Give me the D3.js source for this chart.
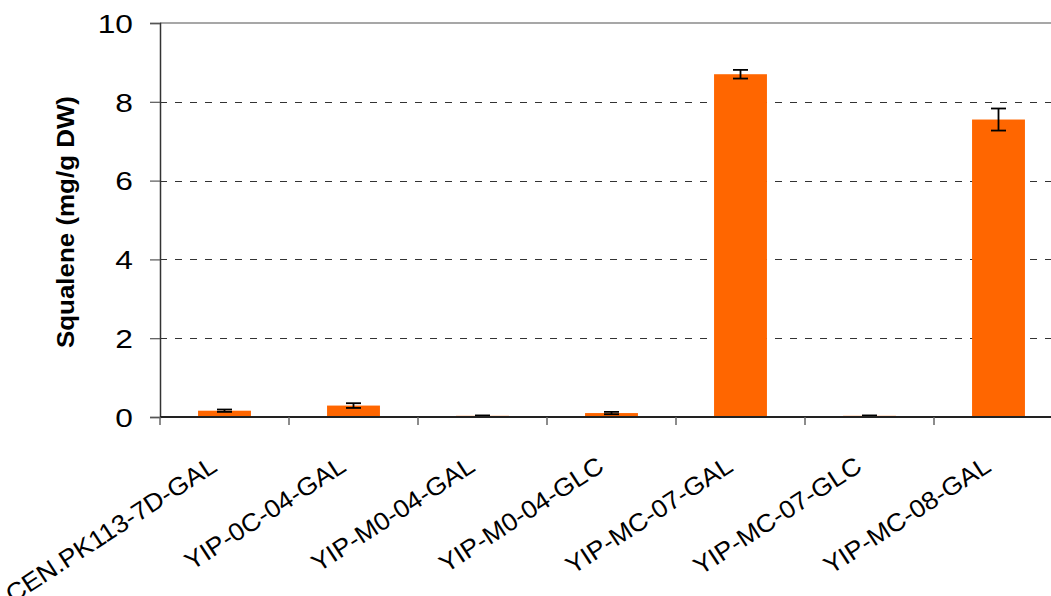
<!DOCTYPE html>
<html>
<head>
<meta charset="utf-8">
<script src="https://cdn.jsdelivr.net/npm/d3@7"></script>
<style>
  html, body { margin: 0; padding: 0; background: #fff; }
  svg { display: block; font-family: "Liberation Sans", Arial, sans-serif; }
</style>
</head>
<body>
<svg id="chart" width="1051" height="596"></svg>
<script>
// Squalene content per strain / carbon source
const strains = ["CEN.PK113-7D-GAL", "YIP-0C-04-GAL", "YIP-M0-04-GAL", "YIP-M0-04-GLC",
                 "YIP-MC-07-GAL", "YIP-MC-07-GLC", "YIP-MC-08-GAL"];
const squalene = [0.16, 0.29, 0.03, 0.10, 8.70, 0.03, 7.55];
const errors   = [0.03, 0.06, 0.01, 0.03, 0.11, 0.01, 0.28];
const yTicks   = [0, 2, 4, 6, 8, 10];

const svg = d3.select("#chart");
const plotL = 160, plotR = 1063, plotT = 23, plotB = 417;

const x = d3.scaleBand().domain(strains).range([plotL, plotR]).paddingInner(0.59).paddingOuter(0.295);
const y = d3.scaleLinear().domain([0, 10]).range([plotB, plotT]);

// widen a text element's glyphs by a factor
function widen(sel, k) {
  sel.each(function () {
    const w = this.getComputedTextLength();
    d3.select(this).attr("textLength", w * k).attr("lengthAdjust", "spacingAndGlyphs");
  });
}

// horizontal gridlines
svg.append("g").selectAll("line")
  .data(yTicks.filter(t => t > 0 && t < 10))
  .join("line")
  .attr("x1", plotL).attr("x2", plotR)
  .attr("y1", d => Math.round(y(d)) + 0.5).attr("y2", d => Math.round(y(d)) + 0.5)
  .attr("stroke", "#333").attr("stroke-width", 1).attr("stroke-dasharray", "7,8");

// top border of the plot area
svg.append("line")
  .attr("x1", plotL).attr("x2", plotR)
  .attr("y1", y(10)).attr("y2", y(10))
  .attr("stroke", "#8a8a8a").attr("stroke-width", 1.5);

// bars
svg.append("g").selectAll("rect")
  .data(strains)
  .join("rect")
  .attr("x", d => x(d))
  .attr("width", x.bandwidth())
  .attr("y", (d, i) => y(squalene[i]))
  .attr("height", (d, i) => y(0) - y(squalene[i]))
  .attr("fill", "#FF6600");

// error bars
const eb = svg.append("g").attr("stroke", "#000").attr("stroke-width", 1.8);
strains.forEach((s, i) => {
  const cx = x(s) + x.bandwidth() / 2;
  const y1 = y(squalene[i] + errors[i]), y2 = y(Math.max(0, squalene[i] - errors[i]));
  eb.append("line").attr("x1", cx).attr("x2", cx).attr("y1", y1).attr("y2", y2);
  eb.append("line").attr("x1", cx - 7.5).attr("x2", cx + 7.5).attr("y1", y1).attr("y2", y1);
  eb.append("line").attr("x1", cx - 7.5).attr("x2", cx + 7.5).attr("y1", y2).attr("y2", y2);
});

// y axis
const yAxis = svg.append("g")
  .attr("transform", `translate(${plotL},0)`)
  .call(d3.axisLeft(y).tickValues(yTicks).tickSize(10).tickPadding(17).tickFormat(d3.format("d")));
yAxis.select(".domain").attr("stroke", "#333").attr("stroke-width", 1.5);
yAxis.selectAll(".tick line").attr("stroke", "#555").attr("stroke-width", 1.2);
yAxis.selectAll(".tick text")
  .attr("font-family", "'Liberation Sans', Arial, sans-serif")
  .attr("font-size", 26).attr("fill", "#000").attr("dy", "0.36em")
  .call(widen, 1.22);

// x axis
const xTickPos = strains.map((s, i) => plotL + i * x.step());
const xAxisG = svg.append("g");
xAxisG.append("line")
  .attr("x1", plotL).attr("x2", plotR).attr("y1", plotB).attr("y2", plotB)
  .attr("stroke", "#222").attr("stroke-width", 2);
xAxisG.selectAll("line.tk")
  .data(xTickPos)
  .join("line").attr("class", "tk")
  .attr("x1", d => d).attr("x2", d => d)
  .attr("y1", plotB).attr("y2", plotB + 8)
  .attr("stroke", "#666").attr("stroke-width", 1.5);

xAxisG.selectAll("text")
  .data(strains)
  .join("text")
  .attr("transform", d => `translate(${x(d) + x.bandwidth() / 2 - 6},470) rotate(-33)`)
  .attr("text-anchor", "end")
  .attr("font-size", 25)
  .attr("fill", "#000")
  .text(d => d)
  .call(widen, 1.06);

// y axis title
svg.append("text")
  .attr("transform", `translate(74,222) rotate(-90)`)
  .attr("text-anchor", "middle")
  .attr("font-size", 24)
  .attr("font-weight", "bold")
  .attr("fill", "#000")
  .text("Squalene (mg/g DW)")
  .call(widen, 1.08);
</script>
</body>
</html>
